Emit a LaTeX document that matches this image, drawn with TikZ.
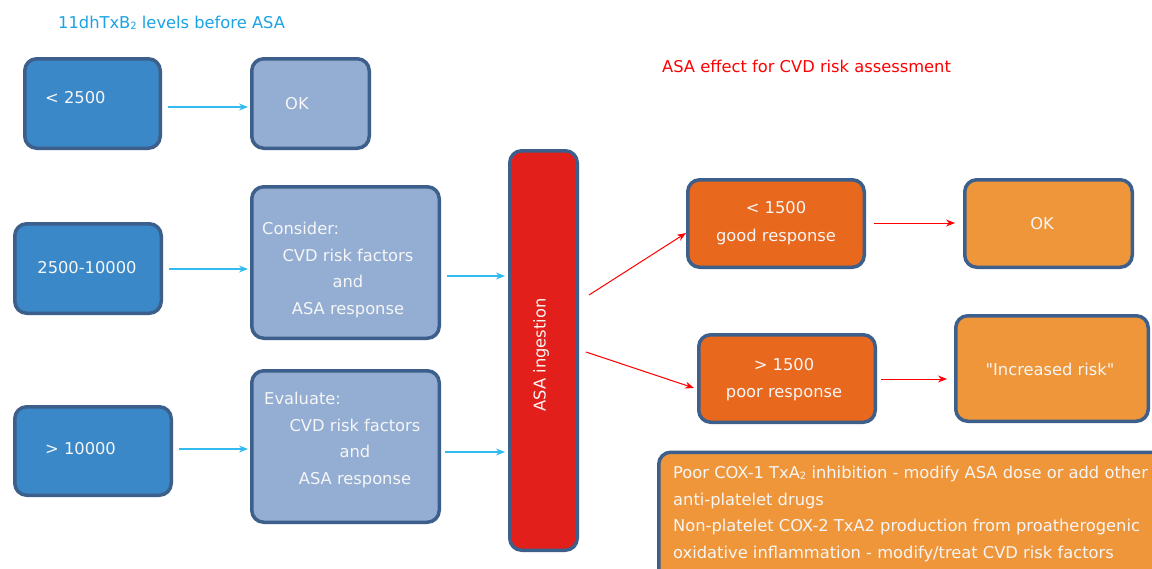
\documentclass[tikz,border=0pt]{standalone}
\usepackage{fontspec}
\setmainfont{DejaVu Sans}[Ligatures=TeXOff]
\usetikzlibrary{arrows.meta}
\definecolor{bdr}{HTML}{3D5F8B}
\definecolor{dblue}{HTML}{3A88C8}
\definecolor{lblue}{HTML}{93ADD3}
\definecolor{asared}{HTML}{E21F1A}
\definecolor{dorange}{HTML}{E8681D}
\definecolor{lorange}{HTML}{F0963A}
\definecolor{ttlblue}{HTML}{1BA3E4}
\definecolor{arrblue}{HTML}{33BBF0}
\definecolor{txtw}{HTML}{F6F6F6}
\tikzset{
  box/.style={draw=bdr, line width=3.5pt, rounded corners=12pt, inner sep=0pt, minimum width=#1},
  boxh/.style={minimum height=#1},
  lbl/.style={font=\fontsize{16.3}{27}\selectfont, text=txtw, inner sep=0pt},
  barrow/.style={draw=arrblue, line width=1.2pt, -{Stealth[length=9pt,width=7pt]}},
  rarrow/.style={draw=red, line width=1pt, -{Stealth[length=9pt,width=7pt]}},
}
\begin{document}
\begin{tikzpicture}[x=1pt,y=-1pt]
\clip (0,0) rectangle (1152,568);
\fill[white] (0,0) rectangle (1152,568);
% titles
\node[font=\fontsize{16.3}{20}\selectfont, text=ttlblue, anchor=base west, inner sep=0pt] (t1) at (58,28) {11dhTxB{\fontsize{10}{12}\selectfont\raisebox{-1.5pt}{2}} levels before ASA};
\node[font=\fontsize{16.3}{20}\selectfont, text=red, anchor=base west, inner sep=0pt] (t2) at (662,72) {ASA effect for CVD risk assessment};
% left boxes
\node[box=135.5pt, boxh=89.5pt, fill=dblue] (a1) at (92.5,103.5) {};
\node[box=117.5pt, boxh=89.5pt, fill=lblue] (ok1) at (310.5,103.5) {};
\node[box=146.5pt, boxh=89.5pt, fill=dblue] (a2) at (88,268.5) {};
\node[box=187.5pt, boxh=151.5pt, fill=lblue] (con) at (345.5,262.5) {};
\node[box=156.5pt, boxh=88.5pt, fill=dblue] (a3) at (93,451) {};
\node[box=187.5pt, boxh=151.5pt, fill=lblue] (ev) at (345.5,446.5) {};
\node[box=67.5pt, boxh=399.5pt, fill=asared] (asa) at (543.5,350.5) {};
% right boxes
\node[box=176.5pt, boxh=87.5pt, fill=dorange] (good) at (776,223.5) {};
\node[box=167.5pt, boxh=87.5pt, fill=lorange] (ok2) at (1048.5,223.5) {};
\node[box=176.5pt, boxh=87.5pt, fill=dorange] (poor) at (787,378.5) {};
\node[box=192.5pt, boxh=105.5pt, fill=lorange] (inc) at (1052,368.5) {};
\node[box=514.5pt, boxh=135.5pt, fill=lorange] (note) at (916,520) {};
% texts
\node[lbl, anchor=base west] (ta1) at (45,103) {< 2500};
\node[lbl, anchor=base west] (tok1) at (285,109) {OK};
\node[lbl, anchor=base] (ta2) at (87,273) {2500-10000};
\node[lbl, anchor=base west] (tcon0) at (262,234) {Consider:};
\node[lbl, anchor=base] (tcon1) at (348,261) {CVD risk factors};
\node[lbl, anchor=base] (tcon2) at (348,287) {and};
\node[lbl, anchor=base] (tcon3) at (348,314) {ASA response};
\node[lbl, anchor=base west] (ta3) at (45,454) {> 10000};
\node[lbl, anchor=base west] (tev0) at (264,404) {Evaluate:};
\node[lbl, anchor=base] (tev1) at (355,431) {CVD risk factors};
\node[lbl, anchor=base] (tev2) at (355,457) {and};
\node[lbl, anchor=base] (tev3) at (355,484) {ASA response};
\node[lbl, rotate=90] (tasa) at (541,355) {ASA ingestion};
\node[lbl, anchor=base] (tg1) at (776,213) {< 1500};
\node[lbl, anchor=base] (tg2) at (776,241) {good response};
\node[lbl, anchor=base] (tok2) at (1042,229) {OK};
\node[lbl, anchor=base] (tp1) at (784,370) {> 1500};
\node[lbl, anchor=base] (tp2) at (784,397) {poor response};
\node[lbl, anchor=base] (tinc) at (1050,375) {"Increased risk"};
\node[lbl, anchor=base west] (tn1) at (673,478) {Poor COX-1 TxA{\fontsize{10}{12}\selectfont\raisebox{-1.5pt}{2}} inhibition - modify ASA dose or add other};
\node[lbl, anchor=base west] (tn2) at (673,505) {anti-platelet drugs};
\node[lbl, anchor=base west] (tn3) at (673,531) {Non-platelet COX-2 TxA2 production from proatherogenic};
\node[lbl, anchor=base west] (tn4) at (673,558) {oxidative inflammation - modify/treat CVD risk factors};
% blue arrows
\draw[barrow] ([xshift=6pt,yshift=-3.5pt]a1.east) -- ([xshift=-2pt,yshift=-3.5pt]ok1.west);
\draw[barrow] ([xshift=6pt,yshift=-0.5pt]a2.east) -- ([xshift=-2pt,yshift=-0.5pt]a2.east -| con.west);
\draw[barrow] ([xshift=6pt,yshift=2pt]a3.east) -- ([xshift=-2pt,yshift=2pt]a3.east -| ev.west);
\draw[barrow] ([xshift=6pt,yshift=-13.5pt]con.east) -- ([xshift=-3pt,yshift=-13.5pt]con.east -| asa.west);
\draw[barrow] ([xshift=4pt,yshift=-5.5pt]ev.east) -- ([xshift=-3pt,yshift=-5.5pt]ev.east -| asa.west);
% red arrows
\draw[rarrow] ([xshift=10pt,yshift=55.5pt]asa.east) -- ([yshift=-9.5pt]good.west);
\draw[rarrow] ([xshift=7pt,yshift=-1.5pt]asa.east) -- ([xshift=-3pt,yshift=-9.5pt]poor.west);
\draw[rarrow] ([xshift=8pt,yshift=0.5pt]good.east) -- ([xshift=-8pt,yshift=0.5pt]ok2.west);
\draw[rarrow] ([xshift=4pt,yshift=-0.5pt]poor.east) -- ([xshift=-7pt,yshift=-0.5pt]poor.east -| inc.west);
\end{tikzpicture}
\end{document}
